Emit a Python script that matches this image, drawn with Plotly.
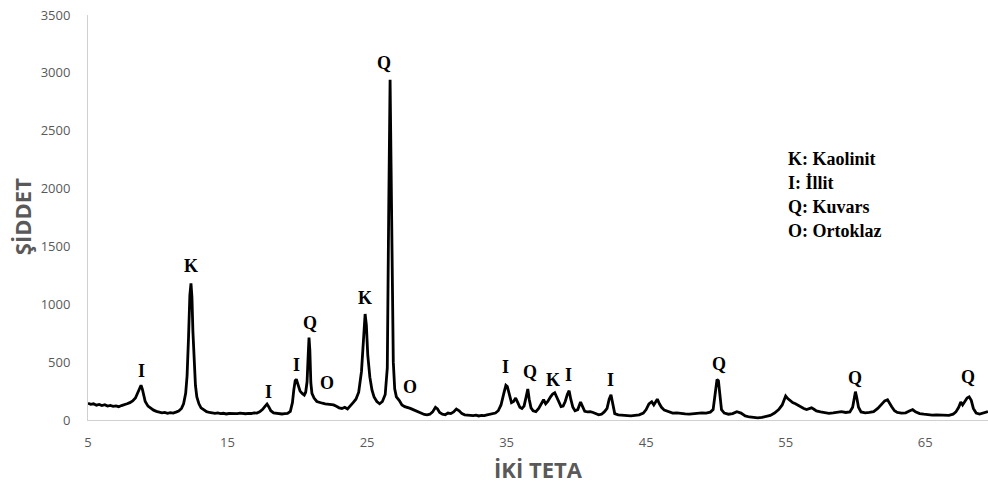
import plotly.graph_objects as go

# XRD pattern: diffraction angle (2-theta, degrees) and measured intensity
two_theta = [
    5.0, 5.2, 5.4, 5.6, 5.8, 6.0, 6.2, 6.4, 6.6, 6.8, 7.0, 7.2, 7.4, 7.6, 7.8, 8.0,
    8.2, 8.4, 8.6, 8.7, 8.8, 8.9, 9.0, 9.1, 9.3, 9.5, 9.7, 9.9, 10.1, 10.3, 10.5,
    10.7, 10.9, 11.1, 11.3, 11.5, 11.7, 11.85, 12.0, 12.1, 12.2, 12.3, 12.38, 12.45,
    12.52, 12.6, 12.7, 12.8, 12.95, 13.1, 13.3, 13.5, 13.7, 13.9, 14.1, 14.3, 14.5,
    14.7, 14.9, 15.1, 15.3, 15.5, 15.7, 15.9, 16.1, 16.3, 16.5, 16.7, 16.9, 17.1,
    17.3, 17.5, 17.7, 17.83, 17.95, 18.1, 18.3, 18.5, 18.7, 18.9, 19.1, 19.3, 19.5,
    19.65, 19.75, 19.85, 19.93, 20.05, 20.2, 20.35, 20.5, 20.6, 20.7, 20.78, 20.84,
    20.9, 20.97, 21.05, 21.2, 21.4, 21.6, 21.8, 22.0, 22.2, 22.4, 22.6, 22.8, 23.0,
    23.2, 23.4, 23.6, 23.8, 24.0, 24.2, 24.4, 24.6, 24.75, 24.86, 24.95, 25.05, 25.2,
    25.35, 25.5, 25.7, 25.9, 26.1, 26.3, 26.45, 26.55, 26.65, 26.72, 26.8, 26.88,
    26.98, 27.1, 27.3, 27.5, 27.7, 27.9, 28.1, 28.3, 28.5, 28.7, 28.9, 29.1, 29.3,
    29.5, 29.7, 29.9, 30.05, 30.2, 30.4, 30.6, 30.8, 31.0, 31.2, 31.4, 31.6, 31.8,
    32.0, 32.2, 32.4, 32.6, 32.8, 33.0, 33.2, 33.4, 33.6, 33.8, 34.0, 34.2, 34.4,
    34.6, 34.8, 34.95, 35.05, 35.2, 35.35, 35.5, 35.65, 35.8, 35.95, 36.1, 36.25,
    36.4, 36.52, 36.62, 36.75, 36.9, 37.1, 37.3, 37.5, 37.65, 37.8, 37.95, 38.15,
    38.3, 38.45, 38.6, 38.75, 38.9, 39.05, 39.2, 39.35, 39.48, 39.6, 39.75, 39.9,
    40.1, 40.3, 40.45, 40.6, 40.8, 41.0, 41.2, 41.4, 41.6, 41.8, 42.0, 42.2, 42.35,
    42.48, 42.6, 42.75, 43.0, 43.3, 43.6, 43.9, 44.2, 44.5, 44.8, 45.0, 45.2, 45.4,
    45.55, 45.7, 45.8, 45.95, 46.1, 46.3, 46.6, 46.9, 47.2, 47.5, 47.8, 48.1, 48.4,
    48.7, 49.0, 49.3, 49.6, 49.8, 49.95, 50.08, 50.18, 50.28, 50.4, 50.6, 50.9, 51.2,
    51.5, 51.8, 52.1, 52.4, 52.7, 53.0, 53.3, 53.6, 53.9, 54.2, 54.5, 54.75, 54.9,
    55.0, 55.15, 55.3, 55.5, 55.7, 55.9, 56.1, 56.3, 56.5, 56.7, 56.85, 57.0, 57.2,
    57.5, 57.8, 58.1, 58.4, 58.7, 59.0, 59.3, 59.6, 59.8, 59.92, 60.0, 60.1, 60.22,
    60.4, 60.7, 61.0, 61.3, 61.6, 61.9, 62.1, 62.3, 62.45, 62.6, 62.8, 63.0, 63.3,
    63.6, 63.9, 64.1, 64.3, 64.6, 64.9, 65.2, 65.5, 65.8, 66.1, 66.4, 66.7, 67.0,
    67.2, 67.4, 67.55, 67.68, 67.85, 68.0, 68.15, 68.3, 68.45, 68.65, 68.9, 69.2, 69.5,
]
intensity = [
    145, 135, 140, 128, 135, 125, 132, 120, 126, 118, 122, 115, 125, 130, 140, 150,
    165, 190, 240, 275, 300, 265, 200, 160, 120, 100, 85, 75, 70, 62, 66,
    58, 64, 60, 68, 78, 100, 140, 230, 380, 700, 1080, 1180, 1060,
    760, 480, 300, 200, 140, 105, 85, 72, 65, 60, 58, 62, 55,
    58, 52, 56, 54, 58, 55, 60, 56, 54, 58, 56, 62, 60,
    70, 90, 120, 138, 115, 80, 62, 58, 55, 52, 55, 58, 75,
    150, 260, 340, 352, 300, 250, 230, 215, 240, 330, 560, 712,
    600, 320, 230, 190, 160, 150, 145, 140, 138, 135, 130, 118, 105,
    100, 110, 95, 120, 150, 180, 240, 420, 720, 916, 820, 560, 370,
    260, 200, 160, 140, 160, 220, 450, 1800, 2940, 2200, 1000, 500,
    270, 200, 170, 130, 115, 110, 100, 90, 80, 68, 55, 48, 45,
    50, 70, 110, 95, 65, 50, 45, 60, 55, 70, 95, 80, 55,
    45, 42, 40, 38, 42, 35, 40, 38, 45, 50, 55, 60, 80,
    130, 230, 300, 290, 210, 150, 160, 190, 150, 110, 100, 120,
    200, 268, 180, 105, 80, 72, 100, 150, 175, 140, 160, 200,
    225, 236, 190, 150, 115, 120, 160, 220, 253, 180, 110, 80,
    90, 155, 110, 75, 70, 72, 65, 55, 45, 50, 70, 100, 180,
    218, 130, 55, 45, 40, 38, 35, 40, 45, 60, 90, 140, 158,
    130, 160, 180, 140, 110, 85, 70, 60, 62, 55, 52, 50, 55,
    58, 62, 60, 68, 90, 230, 350, 340, 200, 90, 60, 50, 55,
    72, 60, 35, 26, 20, 18, 22, 30, 40, 60, 90, 130, 180,
    207, 185, 170, 150, 140, 125, 115, 100, 90, 95, 105, 95, 78,
    70, 62, 58, 62, 68, 72, 65, 70, 110, 200, 245, 190, 110,
    70, 62, 65, 72, 100, 140, 165, 175, 150, 115, 80, 65, 60,
    62, 80, 90, 70, 55, 50, 45, 42, 44, 42, 45, 40, 50,
    70, 110, 155, 130, 160, 190, 200, 170, 100, 60, 52, 62, 72,
]

# Mineral phase labels over the peaks
peak_labels = ["I", "K", "I", "I", "Q", "O", "K", "Q", "O",
               "I", "Q", "K", "I", "I", "Q", "Q", "Q"]
label_theta = [8.80, 12.38, 17.97, 19.91, 20.91, 22.13, 24.86, 26.22, 28.08,
               34.89, 36.68, 38.33, 39.41, 42.42, 50.23, 59.98, 68.08]
label_height = [423, 1331, 245, 475, 841, 322, 1057, 3083, 288,
                455, 417, 346, 389, 346, 484, 360, 374]

# Key to the phase letters
key_lines = ["K: Kaolinit", "I: İllit", "Q: Kuvars", "O: Ortoklaz"]

# Axis ticks and titles
x_ticks = [5, 15, 25, 35, 45, 55, 65]
y_ticks = [0, 500, 1000, 1500, 2000, 2500, 3000, 3500]
x_title = "İKİ TETA"
y_title = "ŞİDDET"

axis_grey = "#595959"
label_font = dict(family="Liberation Serif", size=18, color="black")

fig = go.Figure()
fig.add_trace(go.Scatter(
    x=two_theta, y=intensity, mode="lines",
    line=dict(color="black", width=2.8),
    showlegend=False, hoverinfo="skip",
))

annotations = []
for txt, tx, ty in zip(peak_labels, label_theta, label_height):
    annotations.append(dict(
        x=tx, y=ty, xref="x", yref="y", text="<b>%s</b>" % txt,
        showarrow=False, font=label_font, xanchor="center", yanchor="middle",
    ))

for i, line in enumerate(key_lines):
    annotations.append(dict(
        x=0.7756, y=(420 - (159 + 24 * i)) / 405, xref="paper", yref="paper",
        text="<b>%s</b>" % line, showarrow=False, font=label_font,
        xanchor="left", yanchor="middle",
    ))

annotations.append(dict(
    x=-0.0733, y=0.501, xref="paper", yref="paper", text="<b>%s</b>" % y_title,
    showarrow=False, textangle=-90, xanchor="center", yanchor="middle",
    font=dict(family="Open Sans", size=22, color=axis_grey),
))
annotations.append(dict(
    x=0.501, y=-0.121, xref="paper", yref="paper", text="<b>%s</b>" % x_title,
    showarrow=False, xanchor="center", yanchor="middle",
    font=dict(family="Open Sans", size=22, color=axis_grey),
))

fig.update_layout(
    width=988, height=487,
    margin=dict(l=88, r=0, t=15, b=67),
    paper_bgcolor="white", plot_bgcolor="white",
    annotations=annotations,
    xaxis=dict(
        range=[5, 69.5], tickvals=x_ticks, ticktext=[str(v) for v in x_ticks],
        showgrid=False, zeroline=False, showline=True, linecolor="#d0d0d0",
        linewidth=1, ticks="", ticklabelstandoff=10,
        tickfont=dict(family="Open Sans", size=13, color=axis_grey),
    ),
    yaxis=dict(
        range=[0, 3500], tickvals=y_ticks, ticktext=[str(v) for v in y_ticks],
        showgrid=False, zeroline=False, showline=True, linecolor="#d0d0d0",
        linewidth=1, ticks="", ticklabelstandoff=14,
        tickfont=dict(family="Open Sans", size=13, color=axis_grey),
    ),
)

fig.write_html("out.html")
